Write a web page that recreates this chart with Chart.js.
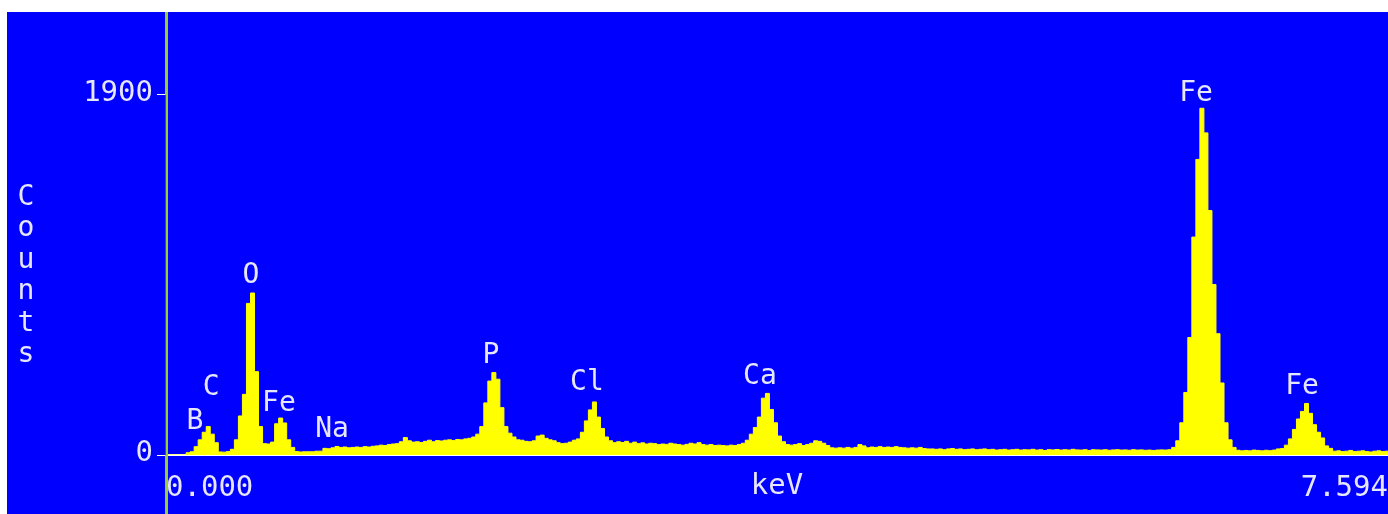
<!DOCTYPE html>
<html>
<head>
<meta charset="utf-8">
<script src="https://cdn.jsdelivr.net/npm/chart.js@4/dist/chart.umd.min.js"></script>
<style>
  html, body { margin: 0; padding: 0; background: #fff; }
  #wrap { position: absolute; left: 7px; top: 12px; width: 1381px; height: 502px; }
</style>
</head>
<body>
<div id="wrap"><canvas id="spectrum"></canvas></div>
<script>
// EDS spectrum, 0.025 keV per channel
const channelWidth = 0.025;
const counts = [
  0, 0, 0, 0, 0, 12, 17, 44, 80, 120, 150, 110, 65, 16, 15, 18, 30, 80, 206, 320,
  800, 855, 440, 150, 60, 58, 68, 165, 195, 169, 80, 40, 18, 16, 17, 17, 17, 20, 20, 35,
  33, 38, 45, 40, 42, 38, 40, 42, 40, 44, 42, 46, 48, 52, 50, 55, 58, 60, 70, 92,
  75, 68, 70, 66, 72, 78, 70, 76, 74, 78, 80, 76, 82, 80, 85, 88, 95, 110, 150, 275,
  390, 435, 400, 250, 150, 115, 95, 80, 78, 72, 70, 75, 100, 105, 88, 80, 75, 65, 60, 62,
  68, 78, 85, 120, 180, 238, 280, 200, 140, 95, 75, 65, 70, 66, 72, 62, 68, 60, 64, 58,
  62, 60, 55, 58, 56, 62, 58, 55, 52, 56, 62, 58, 65, 55, 52, 55, 50, 52, 50, 48,
  52, 50, 55, 62, 78, 110, 145, 200, 300, 325, 240, 170, 100, 70, 55, 52, 55, 60, 50, 55,
  62, 75, 72, 62, 50, 38, 36, 38, 36, 40, 36, 40, 55, 48, 38, 42, 40, 44, 40, 42,
  40, 44, 40, 38, 36, 38, 36, 40, 34, 32, 32, 30, 32, 28, 32, 34, 30, 32, 28, 30,
  32, 28, 30, 32, 28, 30, 26, 28, 30, 26, 28, 30, 26, 28, 27, 30, 26, 28, 24, 28,
  27, 29, 26, 28, 26, 30, 27, 26, 28, 24, 28, 27, 26, 28, 25, 27, 28, 26, 27, 25,
  28, 26, 27, 25, 26, 24, 26, 27, 26, 28, 40, 75, 170, 330, 620, 1150, 1560, 1830, 1700, 1290,
  900, 640, 380, 170, 80, 40, 25, 22, 24, 22, 26, 24, 22, 25, 23, 26, 32, 34, 52, 85,
  135, 190, 230, 272, 220, 160, 120, 90, 48, 35, 20, 22, 18, 20, 24, 18, 20, 22, 18, 16,
  20, 22, 18, 20
];

const yTickValues = [0, 1900];
const xTickValues = [0, 7.594];
const xTitle = 'keV';
const yTitle = 'Counts';

// element markers: name, energy (keV), label height (counts)
const peakNames = ['B', 'C', 'O', 'Fe', 'Na', 'P', 'Cl', 'Ca', 'Fe', 'Fe'];
const peakEnergies = [0.180, 0.280, 0.528, 0.702, 1.032, 2.020, 2.616, 3.691, 6.401, 7.060];
const peakLabelCounts = [174, 354, 945, 270, 132, 523, 380, 412, 1906, 359];

const FONT = "'DejaVu Sans Mono', monospace";
const TEXT = '#e6e6ff';

const points = counts.map((c, i) => ({ x: i * channelWidth, y: c }));
points.push({ x: counts.length * channelWidth, y: counts[counts.length - 1] });

const background = {
  id: 'background',
  beforeDraw(chart) {
    const ctx = chart.ctx;
    ctx.save();
    ctx.fillStyle = '#0000ff';
    ctx.fillRect(0, 0, chart.width, chart.height);
    ctx.restore();
  }
};

const decorations = {
  id: 'decorations',
  afterDraw(chart) {
    const { ctx, chartArea, scales: { x, y } } = chart;
    ctx.save();
    // y axis line runs the whole panel height
    ctx.fillStyle = '#9acd32';
    ctx.fillRect(chartArea.left - 1, 0, 3, chart.height);
    const top = y.getPixelForValue(1900);
    ctx.fillStyle = '#6b4a1e';
    ctx.fillRect(chartArea.left - 1, top, 1, chartArea.bottom - top);

    ctx.font = `28px ${FONT}`;
    ctx.fillStyle = TEXT;
    ctx.textAlign = 'center';
    // upright stacked axis title
    ctx.textBaseline = 'alphabetic';
    [...yTitle].forEach((ch, i) => ctx.fillText(ch, 19, 193 + i * 31.4));
    // peak labels
    ctx.textBaseline = 'middle';
    peakNames.forEach((name, i) => {
      ctx.fillText(name, x.getPixelForValue(peakEnergies[i]), y.getPixelForValue(peakLabelCounts[i]));
    });
    ctx.restore();
  }
};

new Chart(document.getElementById('spectrum'), {
  type: 'line',
  data: {
    datasets: [{
      data: points,
      stepped: true,
      fill: 'origin',
      backgroundColor: '#ffff00',
      borderColor: '#ffff00',
      borderWidth: 1,
      pointRadius: 0
    }]
  },
  options: {
    animation: false,
    responsive: true,
    maintainAspectRatio: false,
    layout: { padding: 0 },
    plugins: { legend: { display: false }, tooltip: { enabled: false } },
    scales: {
      x: {
        type: 'linear',
        min: 0,
        max: 7.594,
        z: 1,
        afterBuildTicks: s => { s.ticks = xTickValues.map(v => ({ value: v })); },
        afterFit: s => { s.height = 59; s.paddingLeft = 0; s.paddingRight = 0; },
        ticks: {
          align: 'inner',
          autoSkip: false,
          maxRotation: 0,
          color: TEXT,
          font: { family: FONT, size: 29 },
          padding: 16,
          callback: v => Number(v).toFixed(3)
        },
        grid: { display: false, drawTicks: false },
        border: { color: '#ffffff', width: 2 },
        title: {
          display: true,
          text: xTitle,
          color: TEXT,
          font: { family: FONT, size: 29, lineHeight: 1 },
          padding: { top: 0, bottom: 13 }
        }
      },
      y: {
        type: 'linear',
        min: 0,
        max: 2338,
        afterBuildTicks: s => { s.ticks = yTickValues.map(v => ({ value: v })); },
        afterFit: s => { s.width = 159; s.paddingTop = 0; s.paddingBottom = 0; },
        ticks: {
          autoSkip: false,
          color: TEXT,
          font: { family: FONT, size: 29 },
          padding: 4,
          labelOffset: -2,
          callback: v => String(v)
        },
        grid: { drawOnChartArea: false, drawTicks: true, tickLength: 9, color: '#ffffff' },
        border: { display: false }
      }
    }
  },
  plugins: [background, decorations]
});
</script>
</body>
</html>
